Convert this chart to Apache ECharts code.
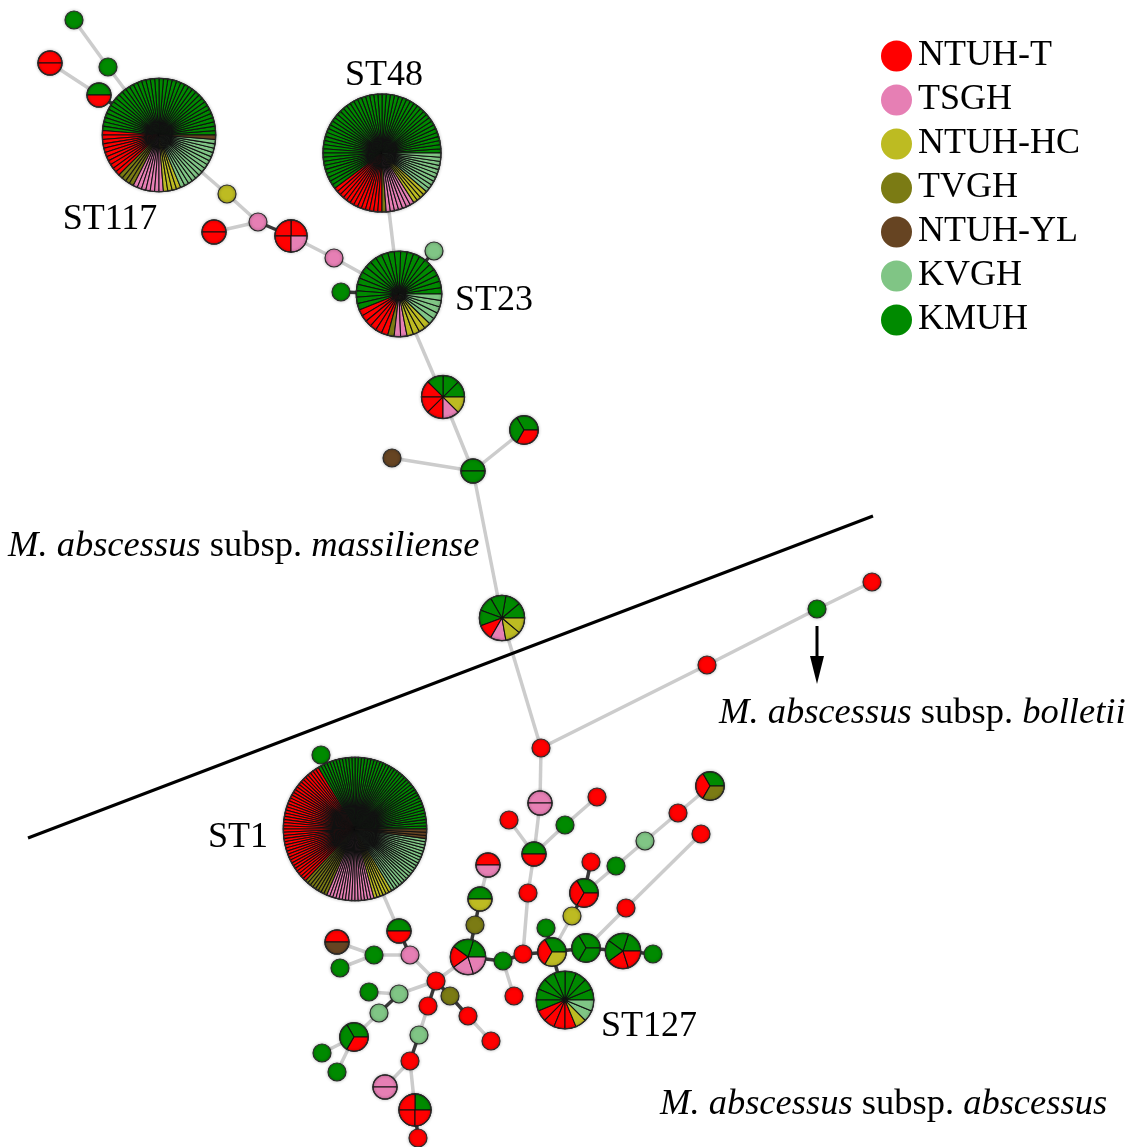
<!DOCTYPE html>
<html>
<head>
<meta charset="utf-8">
<script src="https://cdn.jsdelivr.net/npm/echarts@6/dist/echarts.min.js"></script>
<style>
  html, body { margin: 0; padding: 0; background: #fff; }
  #mst { width: 1138px; height: 1147px; }
</style>
</head>
<body>
<div id="mst"></div>
<script>
// hospitals in legend order
var hospitals = ['NTUH-T', 'TSGH', 'NTUH-HC', 'TVGH', 'NTUH-YL', 'KVGH', 'KMUH'];
var hospitalColors = ['#ff0000', '#e67fb4', '#bdbb22', '#7b7b14', '#664422', '#80c585', '#008a00'];
// order the slices go round each pie (counter-clockwise from east)
var pieOrder = [6, 0, 3, 1, 2, 5, 4];

// nodes: id, position, isolates per hospital [NTUH-T, TSGH, NTUH-HC, TVGH, NTUH-YL, KVGH, KMUH]
var nodeIds = ['n1', 'n2', 'n3', 'n4', 'ST117', 'n6', 'n7', 'n8', 'n9', 'n10', 'n11', 'n12', 'ST48', 'ST23',
  'n15', 'n16', 'n17', 'n18', 'n19', 'n20', 'n21', 'n22', 'n23', 'n24', 'n25', 'n26', 'n27', 'n28', 'n29', 'n30',
  'n31', 'n32', 'n33', 'n34', 'n35', 'n36', 'n37', 'n38', 'n39', 'n40', 'n41', 'n42', 'n43', 'n44', 'n45', 'n46',
  'n47', 'n48', 'n49', 'n50', 'ST127', 'n52', 'n53', 'n54', 'n55', 'n56', 'n57', 'n58', 'n59', 'n60', 'n61', 'n62',
  'n63', 'n64', 'n65', 'n66', 'n67', 'n68', 'n69', 'n70', 'n71', 'n72', 'n73', 'ST1'];
var nodeX = [74, 108, 50, 99, 159, 227, 258, 214, 291, 334, 341, 434, 382, 399,
  443, 524, 473, 392, 502, 872, 817, 707, 541, 540, 597, 509, 565, 534, 488, 528,
  480, 475, 468, 503, 523, 514, 546, 552, 572, 584, 591, 616, 645, 678, 710, 701,
  626, 586, 623, 653, 565, 399, 337, 374, 410, 340, 436, 450, 369, 399, 428, 468,
  379, 354, 419, 491, 322, 337, 410, 385, 415, 418, 321, 355];
var nodeY = [20, 67, 63, 95, 135, 194, 222, 232, 236, 258, 292, 251, 153, 294,
  397, 430, 471, 458, 618, 582, 609, 665, 748, 803, 797, 820, 825, 854, 865, 893,
  899, 925, 957, 961, 954, 996, 928, 952, 916, 893, 862, 866, 841, 813, 786, 834,
  908, 948, 951, 954, 1000, 931, 942, 955, 955, 968, 981, 996, 992, 994, 1006, 1016,
  1013, 1037, 1035, 1041, 1053, 1072, 1061, 1087, 1110, 1138, 755, 829];
var nodeCounts = [
  [0,0,0,0,0,0,1], [0,0,0,0,0,0,1], [2,0,0,0,0,0,0], [1,0,0,0,0,0,1],
  [11,7,4,4,1,14,39],
  [0,0,1,0,0,0,0], [0,1,0,0,0,0,0], [2,0,0,0,0,0,0], [3,1,0,0,0,0,0],
  [0,1,0,0,0,0,0], [0,0,0,0,0,0,1], [0,0,0,0,0,1,0],
  [13,7,4,1,0,10,53],
  [6,2,4,1,0,5,23],
  [3,1,1,0,0,0,3], [1,0,0,0,0,0,2], [0,0,0,0,0,0,2], [0,0,0,0,1,0,0],
  [1,1,2,0,0,0,5],
  [1,0,0,0,0,0,0], [0,0,0,0,0,0,1], [1,0,0,0,0,0,0], [1,0,0,0,0,0,0],
  [0,2,0,0,0,0,0], [1,0,0,0,0,0,0], [1,0,0,0,0,0,0], [0,0,0,0,0,0,1],
  [1,0,0,0,0,0,1], [1,1,0,0,0,0,0], [1,0,0,0,0,0,0], [0,0,1,0,0,0,1],
  [0,0,0,1,0,0,0], [1,2,0,0,0,0,2], [0,0,0,0,0,0,1], [1,0,0,0,0,0,0],
  [1,0,0,0,0,0,0], [0,0,0,0,0,0,1], [1,0,1,0,0,0,1], [0,0,1,0,0,0,0],
  [2,0,0,0,0,0,1], [1,0,0,0,0,0,0], [0,0,0,0,0,0,1], [0,0,0,0,0,1,0],
  [1,0,0,0,0,0,0], [1,0,0,1,0,0,1], [1,0,0,0,0,0,0], [1,0,0,0,0,0,0],
  [0,0,0,0,0,0,3], [2,0,0,0,0,0,3], [0,0,0,0,0,0,1],
  [4,0,1,0,0,2,9],
  [1,0,0,0,0,0,1], [1,0,0,0,1,0,0], [0,0,0,0,0,0,1], [0,1,0,0,0,0,0],
  [0,0,0,0,0,0,1], [1,0,0,0,0,0,0], [0,0,0,1,0,0,0], [0,0,0,0,0,0,1],
  [0,0,0,0,0,1,0], [1,0,0,0,0,0,0], [1,0,0,0,0,0,0], [0,0,0,0,0,1,0],
  [1,0,0,0,0,0,2], [0,0,0,0,0,1,0], [1,0,0,0,0,0,0], [0,0,0,0,0,0,1],
  [0,0,0,0,0,0,1], [1,0,0,0,0,0,0], [0,2,0,0,0,0,0], [3,0,0,0,0,0,1],
  [1,0,0,0,0,0,0], [0,0,0,0,0,0,1],
  [41,15,6,8,3,20,47]
];

// tree links: 'g' = long grey link, 'd' = short dark link
var edgeFrom = ['n1','n2','n3','n4','ST117','n6','n7','n7','n9','n10','n11','n12','ST48','ST23','n15','n16','n18','n17',
  'n19','n23','n22','n21','n23','n24','n28','n28','n27','n28','n30','n29','n31','n32','n33','n34','n34','n35','n37',
  'n38','n39','n40','n38','n38','n48','n49','n48','n47','n40','n42','n43','n44','n33','ST1','n73','n52','n55','n54',
  'n54','n55','n57','n58','n62','n57','n60','n60','n63','n64','n64','n57','n61','n65','n69','n69','n71'];
var edgeTo = ['n2','ST117','n4','ST117','n6','n7','n8','n9','n10','ST23','ST23','ST23','ST23','n15','n17','n17','n17','n19',
  'n23','n22','n21','n20','n24','n28','n26','n27','n25','n30','n35','n31','n32','n33','n34','n35','n36','n38','n38',
  'n39','n40','n41','ST127','n48','n49','n50','n47','n46','n42','n43','n44','n45','n57','n52','ST1','n55','n54','n53',
  'n56','n57','n58','n62','n66','n60','n59','n63','n64','n67','n68','n61','n65','n69','n70','n71','n72'];
var edgeType = ['g','g','g','d','g','g','g','d','g','g','d','d','g','g','g','g','g','g',
  'g','g','g','g','g','g','g','g','g','g','g','g','d','d','d','d','g','d','d',
  'g','d','d','d','d','d','d','g','g','g','g','g','g','g','g','d','d','g','g',
  'g','g','d','d','g','g','g','d','g','g','g','d','g','d','g','g','d'];

// sequence type labels
var stNames = ['ST117', 'ST48', 'ST23', 'ST1', 'ST127'];
var stLabelX = [110, 384, 494, 238, 649];
var stLabelY = [220, 76, 301, 838, 1027];

function nodeRadius(n) { return 9 * Math.pow(n, 0.42); }

var edgeData = [];
for (var i = 0; i < edgeFrom.length; i++) {
  var a = nodeIds.indexOf(edgeFrom[i]), b = nodeIds.indexOf(edgeTo[i]);
  edgeData.push({
    coords: [[nodeX[a], nodeY[a]], [nodeX[b], nodeY[b]]],
    lineStyle: edgeType[i] === 'd'
      ? { color: '#3a3a3a', width: 3.5, opacity: 1 }
      : { color: '#cccccc', width: 3.5, opacity: 1 }
  });
}

var nodeData = [];
for (var k = 0; k < nodeIds.length; k++) nodeData.push([nodeX[k], nodeY[k], k]);

function renderNode(params, api) {
  var c = api.coord([api.value(0), api.value(1)]);
  var counts = nodeCounts[api.value(2)];
  var total = 0;
  for (var j = 0; j < counts.length; j++) total += counts[j];
  var r = nodeRadius(total);
  var kids = [];
  if (total === 1) {
    kids.push({ type: 'circle', shape: { cx: c[0], cy: c[1], r: r },
      style: { fill: hospitalColors[counts.indexOf(1)], stroke: 'none' } });
  } else {
    var step = Math.PI * 2 / total, ang = 0;
    pieOrder.forEach(function (h) {
      for (var m = 0; m < counts[h]; m++) {
        kids.push({ type: 'sector',
          shape: { cx: c[0], cy: c[1], r0: 0, r: r, startAngle: -(ang + step), endAngle: -ang, clockwise: true },
          style: { fill: hospitalColors[h], stroke: '#111', lineWidth: 1.05 } });
        ang += step;
      }
    });
  }
  kids.push({ type: 'circle', shape: { cx: c[0], cy: c[1], r: r },
    style: { fill: 'none', stroke: '#2a2a2a', lineWidth: 1.2, shadowBlur: 3, shadowColor: 'rgba(0,0,0,0.45)' } });
  return { type: 'group', children: kids };
}

var serif = '"Liberation Serif", "DejaVu Serif", serif';
var graphics = [];
for (var s = 0; s < stNames.length; s++) {
  graphics.push({ type: 'text', x: stLabelX[s], y: stLabelY[s], z: 100,
    style: { text: stNames[s], font: '36px ' + serif, fill: '#000', align: 'center', verticalAlign: 'middle' } });
}
var italicRich = { i: { fontStyle: 'italic', fontSize: 36.5, fontFamily: serif, fill: '#000' } };
function speciesLabel(x, y, subsp) {
  return { type: 'text', x: x, y: y, z: 100,
    style: { text: '{i|M. abscessus} subsp. {i|' + subsp + '}', rich: italicRich, fontSize: 36.5, fontFamily: serif,
      fill: '#000', verticalAlign: 'middle' } };
}
graphics.push(speciesLabel(8, 546, 'massiliense'));
graphics.push(speciesLabel(719, 713, 'bolletii'));
graphics.push(speciesLabel(660, 1104, 'abscessus'));
// subspecies divider and arrow
graphics.push({ type: 'line', z: 50, shape: { x1: 28, y1: 838, x2: 873, y2: 516 }, style: { stroke: '#000', lineWidth: 3 } });
graphics.push({ type: 'line', z: 50, shape: { x1: 817, y1: 626, x2: 817, y2: 662 }, style: { stroke: '#000', lineWidth: 3 } });
graphics.push({ type: 'polygon', z: 50, shape: { points: [[810, 656], [824, 656], [817, 684]] }, style: { fill: '#000' } });

var series = [{
  type: 'lines', coordinateSystem: 'cartesian2d', polyline: false, silent: true, z: 1,
  data: edgeData
}, {
  type: 'custom', coordinateSystem: 'cartesian2d', renderItem: renderNode, z: 5,
  encode: { x: 0, y: 1 }, data: nodeData
}];
hospitals.forEach(function (h, i) {
  series.push({ name: h, type: 'scatter', data: [], itemStyle: { color: hospitalColors[i], opacity: 1 } });
});

var mstChart = echarts.init(document.getElementById('mst'));
mstChart.setOption({
  animation: false,
  backgroundColor: '#fff',
  grid: { left: 0, right: 0, top: 0, bottom: 0 },
  xAxis: { type: 'value', min: 0, max: 1138, show: false },
  yAxis: { type: 'value', min: 0, max: 1147, inverse: true, show: false },
  legend: {
    orient: 'vertical', left: 876, top: 33, icon: 'circle', itemWidth: 31, itemHeight: 31, itemGap: 8,
    data: hospitals, selectedMode: false,
    itemStyle: { opacity: 1 },
    textStyle: { fontSize: 36, fontFamily: serif, color: '#000', padding: [0, 0, 0, 1] }
  },
  graphic: graphics,
  series: series
});
</script>
</body>
</html>
